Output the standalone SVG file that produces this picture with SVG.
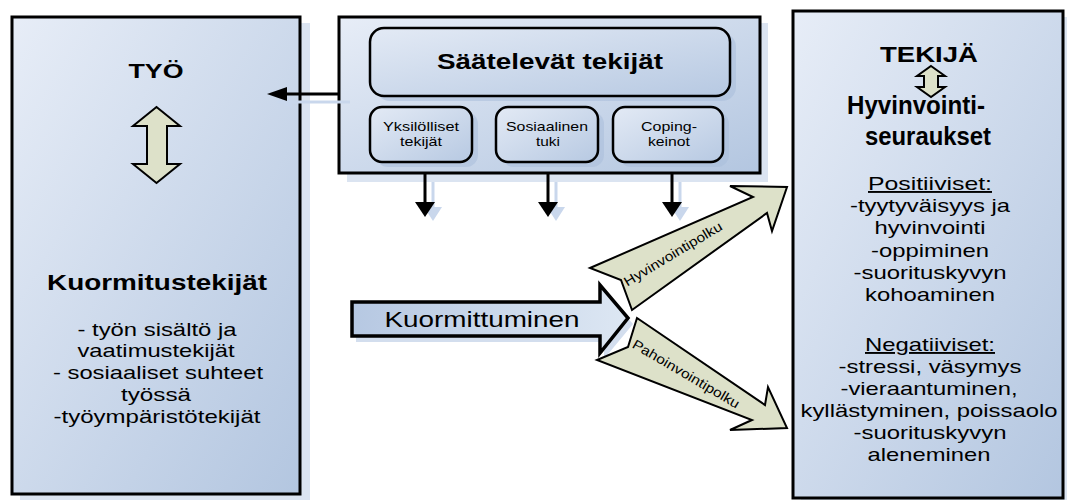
<svg xmlns="http://www.w3.org/2000/svg" width="1067" height="500" viewBox="0 0 1067 500">
<defs>
<linearGradient id="boxg" x1="0" y1="0" x2="1" y2="1">
<stop offset="0" stop-color="#e7edf7"/>
<stop offset="1" stop-color="#b3c6e0"/>
</linearGradient>
<linearGradient id="rg" x1="0" y1="0" x2="1" y2="1">
<stop offset="0" stop-color="#e3eaf5"/>
<stop offset="1" stop-color="#b7c9e2"/>
</linearGradient>
<linearGradient id="kg" x1="0" y1="0" x2="1" y2="0">
<stop offset="0" stop-color="#b6c8e2"/>
<stop offset="1" stop-color="#dde7f3"/>
</linearGradient>
<style>
.box{stroke:#000;stroke-width:3;fill:url(#boxg)}
.shadow{fill:#dbe4f1}
.rbox{stroke:#000;stroke-width:2.5;fill:url(#rg)}
.rshadow{fill:#a9bedb;opacity:0.55}
.beige{fill:#dde1c9;stroke:#000;stroke-width:2;stroke-linejoin:miter}
.t{font-family:"Liberation Sans",Arial,sans-serif;fill:#000;text-anchor:middle}
.b{font-weight:bold}
.ln{stroke:#000;stroke-width:3;fill:none}
.sln{stroke:#c9d7ec;stroke-width:3;fill:none}
</style>
</defs>

<g id="tyo">
<rect class="shadow" x="20" y="23" width="290" height="477"/>
<rect class="box" x="12" y="17" width="288" height="477"/>
<text class="t b" x="156" y="78" font-size="21" textLength="55" lengthAdjust="spacingAndGlyphs">TYÖ</text>
<polygon class="beige" points="156.5,107 180,126 167,126 167,164 180,164 156.5,183 133,164 147,164 147,126 133,126"/>
<text class="t b" x="157" y="290" font-size="22" textLength="220" lengthAdjust="spacingAndGlyphs">Kuormitustekijät</text>
<g class="t" font-size="19">
<text x="157" y="336" textLength="159" lengthAdjust="spacingAndGlyphs">- työn sisältö ja</text>
<text x="156" y="357" textLength="157" lengthAdjust="spacingAndGlyphs">vaatimustekijät</text>
<text x="158" y="379" textLength="210" lengthAdjust="spacingAndGlyphs">- sosiaaliset suhteet</text>
<text x="156" y="401" textLength="70" lengthAdjust="spacingAndGlyphs">työssä</text>
<text x="157" y="423" textLength="207" lengthAdjust="spacingAndGlyphs">-työympäristötekijät</text>
</g>
</g>

<g id="saatelevat">
<rect class="shadow" x="347" y="23" width="421" height="159"/>
<rect class="box" x="339" y="17" width="421" height="156"/>
<rect class="rshadow" x="376" y="33" width="360" height="68" rx="14"/>
<rect class="rbox" x="370" y="28" width="360" height="68" rx="14"/>
<text class="t b" x="550" y="69" font-size="22" textLength="226" lengthAdjust="spacingAndGlyphs">Säätelevät tekijät</text>
</g>

<g id="yksilolliset">
<rect class="rshadow" x="376" y="112" width="102" height="55" rx="12"/>
<rect class="rbox" x="370" y="107" width="102" height="55" rx="12"/>
<text class="t" x="421" y="131" font-size="13.5" textLength="76" lengthAdjust="spacingAndGlyphs">Yksilölliset</text>
<text class="t" x="421" y="146" font-size="13.5" textLength="42" lengthAdjust="spacingAndGlyphs">tekijät</text>
</g>

<g id="sosiaalinen">
<rect class="rshadow" x="502" y="112" width="102" height="55" rx="12"/>
<rect class="rbox" x="496" y="107" width="102" height="55" rx="12"/>
<text class="t" x="547" y="131" font-size="13.5" textLength="82" lengthAdjust="spacingAndGlyphs">Sosiaalinen</text>
<text class="t" x="548" y="146" font-size="13.5" textLength="24" lengthAdjust="spacingAndGlyphs">tuki</text>
</g>

<g id="coping">
<rect class="rshadow" x="619" y="112" width="110" height="55" rx="12"/>
<rect class="rbox" x="613" y="107" width="110" height="55" rx="12"/>
<text class="t" x="669" y="131" font-size="13.5" textLength="56" lengthAdjust="spacingAndGlyphs">Coping-</text>
<text class="t" x="669" y="146" font-size="13.5" textLength="42" lengthAdjust="spacingAndGlyphs">keinot</text>
</g>

<g id="tekija">
<rect class="shadow" x="801" y="17" width="270" height="487"/>
<rect class="box" x="793" y="11" width="270" height="487"/>
<text class="t b" x="929" y="62" font-size="22" textLength="98" lengthAdjust="spacingAndGlyphs">TEKIJÄ</text>
<polygon class="beige" points="931,66 945,76 938,76 938,87 945,87 931,97 917,87 924,87 924,76 917,76"/>
<text class="t b" x="916" y="114" font-size="25" textLength="138" lengthAdjust="spacingAndGlyphs">Hyvinvointi-</text>
<text class="t b" x="928" y="145" font-size="25" textLength="126" lengthAdjust="spacingAndGlyphs">seuraukset</text>
<g class="t" font-size="19">
<text x="930" y="190" text-decoration="underline" textLength="124" lengthAdjust="spacingAndGlyphs">Positiiviset:</text>
<text x="930" y="212" textLength="160" lengthAdjust="spacingAndGlyphs">-tyytyväisyys ja</text>
<text x="930" y="234" textLength="111" lengthAdjust="spacingAndGlyphs">hyvinvointi</text>
<text x="930" y="257" textLength="118" lengthAdjust="spacingAndGlyphs">-oppiminen</text>
<text x="930" y="279" textLength="153" lengthAdjust="spacingAndGlyphs">-suorituskyvyn</text>
<text x="930" y="301" textLength="130" lengthAdjust="spacingAndGlyphs">kohoaminen</text>
<text x="930" y="351" text-decoration="underline" textLength="130" lengthAdjust="spacingAndGlyphs">Negatiiviset:</text>
<text x="930" y="373" textLength="183" lengthAdjust="spacingAndGlyphs">-stressi, väsymys</text>
<text x="929" y="395" textLength="177" lengthAdjust="spacingAndGlyphs">-vieraantuminen,</text>
<text x="929" y="417" textLength="257" lengthAdjust="spacingAndGlyphs">kyllästyminen, poissaolo</text>
<text x="930" y="439" textLength="153" lengthAdjust="spacingAndGlyphs">-suorituskyvyn</text>
<text x="929" y="461" textLength="123" lengthAdjust="spacingAndGlyphs">aleneminen</text>
</g>
</g>

<g id="connectors">
<line class="sln" x1="350" y1="102" x2="290" y2="102"/>
<polygon fill="#c9d7ec" points="276,102 292,96 292,108"/>
<line class="sln" x1="433" y1="182" x2="433" y2="208"/>
<polygon fill="#c9d7ec" points="424,207 442,207 433,221"/>
<line class="sln" x1="556" y1="182" x2="556" y2="208"/>
<polygon fill="#c9d7ec" points="547,207 565,207 556,221"/>
<line class="sln" x1="680" y1="182" x2="680" y2="208"/>
<polygon fill="#c9d7ec" points="671,207 689,207 680,221"/>
<line class="ln" x1="339" y1="94" x2="284" y2="94"/>
<polygon fill="#000" points="267,94 287,87 287,101"/>
<line class="ln" x1="425" y1="173" x2="425" y2="204"/>
<polygon fill="#000" points="415,202 435,202 425,217"/>
<line class="ln" x1="548" y1="173" x2="548" y2="204"/>
<polygon fill="#000" points="538,202 558,202 548,217"/>
<line class="ln" x1="672" y1="173" x2="672" y2="204"/>
<polygon fill="#000" points="662,202 682,202 672,217"/>
<polygon fill="#d3deee" points="356,308 604,308 604,291 633,324 604,359 604,342 356,342"/>
<polygon fill="url(#kg)" stroke="#000" stroke-width="3.5" stroke-linejoin="miter" points="352,302 600,302 600,285 628,318 600,353 600,336 352,336"/>
<text class="t" x="482" y="327" font-size="22" textLength="195" lengthAdjust="spacingAndGlyphs">Kuormittuminen</text>
<polygon class="beige" points="590,268 753,197 730,186 787,187 772,231 767,213 632,310 621,280"/>
<text class="t" font-size="13.5" x="0" y="4.5" textLength="112" lengthAdjust="spacingAndGlyphs" transform="translate(673,254) rotate(-31)">Hyvinvointipolku</text>
<polygon class="beige" points="637,318 765,405 768,387 787,428 730,430 752,420 597,360 628,347"/>
<text class="t" font-size="13.5" x="0" y="4.5" textLength="122" lengthAdjust="spacingAndGlyphs" transform="translate(686,374) rotate(30.5)">Pahoinvointipolku</text>
</g>
</svg>
